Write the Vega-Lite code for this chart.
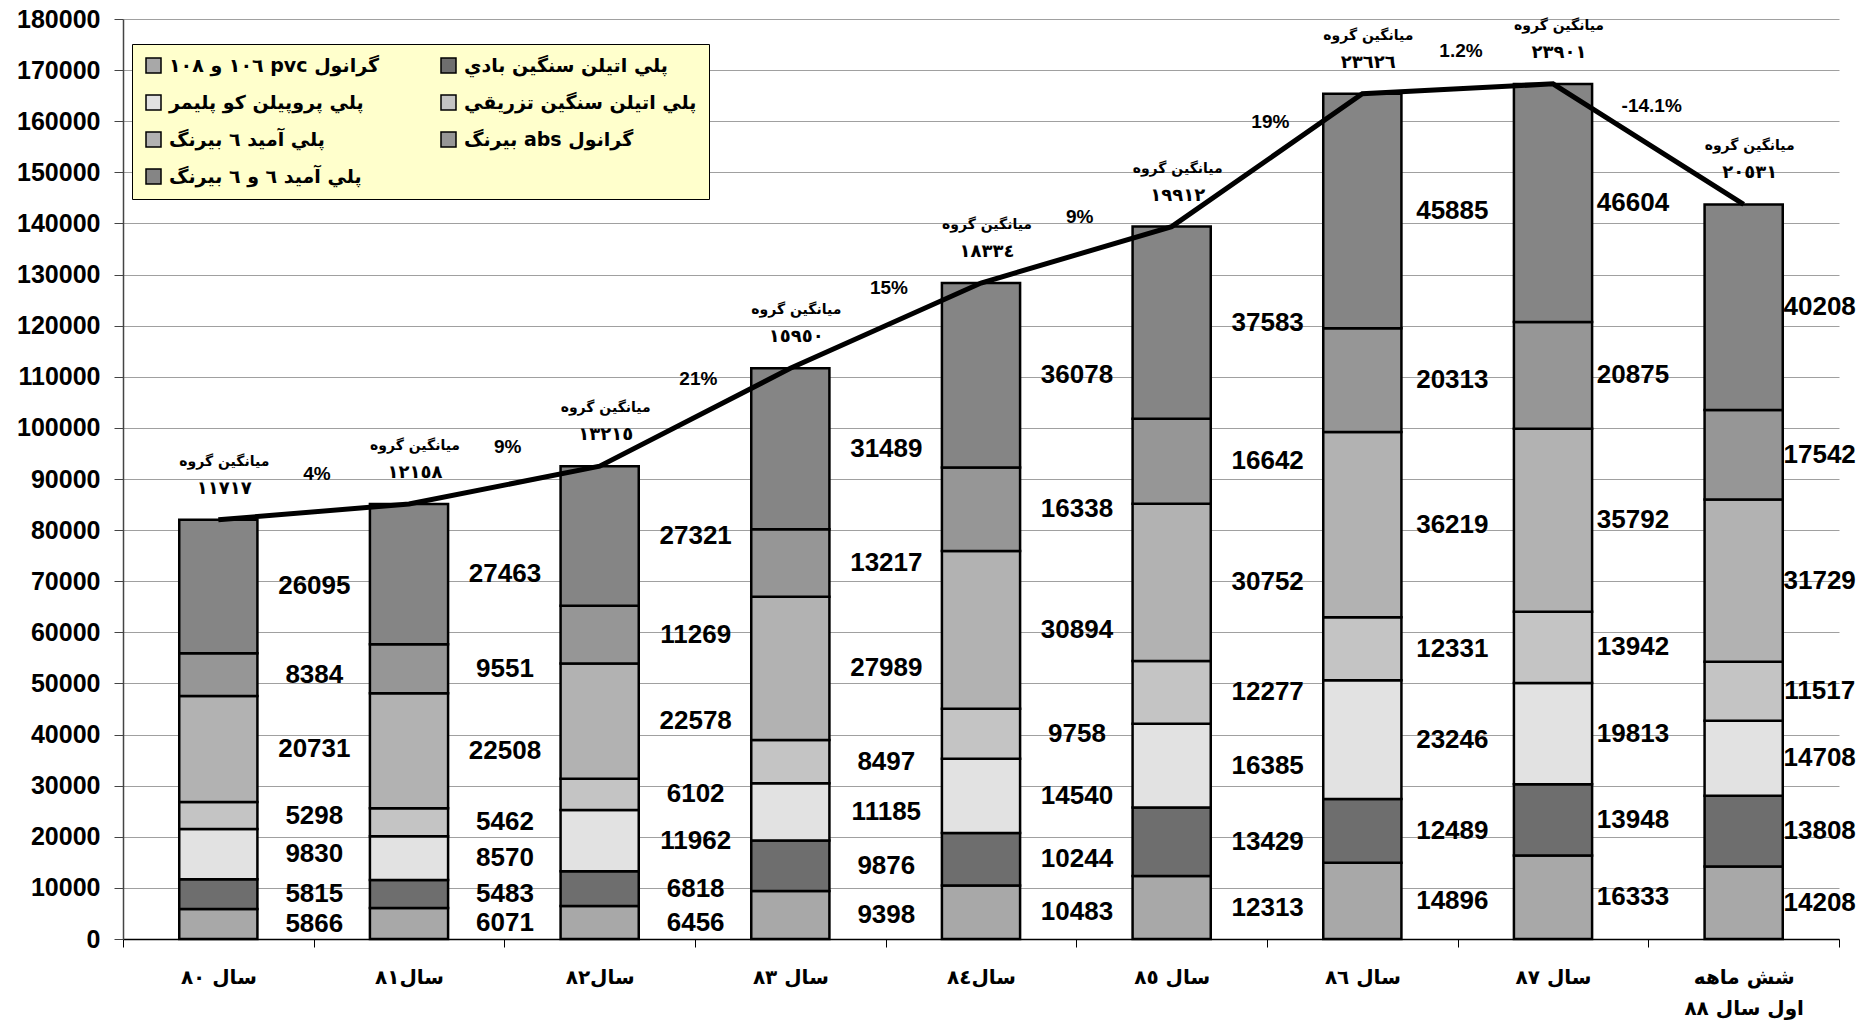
{
  "$schema": "https://vega.github.io/schema/vega-lite/v6.json",
  "width": 1716,
  "height": 920,
  "autosize": {"type": "none"},
  "padding": {"left": 123, "top": 19, "right": 32, "bottom": 87},
  "background": "white",
  "config": {
    "view": {"stroke": null},
    "axisY": {
      "gridColor": "#a0a0a0", "gridWidth": 1,
      "domainColor": "#444444", "domainWidth": 1.5,
      "tickColor": "#444444", "tickSize": 9,
      "labelFont": "Liberation Sans", "labelFontSize": 25, "labelFontWeight": "bold",
      "labelColor": "#000000", "labelPadding": 14
    },
    "axisX": {
      "grid": false,
      "domainColor": "#000000", "domainWidth": 1.5,
      "tickColor": "#000000", "tickSize": 8,
      "labelFont": "DejaVu Sans", "labelFontSize": 20, "labelFontWeight": "bold",
      "labelColor": "#000000", "labelPadding": 20, "labelAngle": 0, "labelLineHeight": 31
    }
  },
  "datasets": {
    "seg": [
      {"year": "سال ٨٠", "series": "گرانول pvc ١٠٦ و ١٠٨", "value": 5866},
      {"year": "سال ٨٠", "series": "پلي اتيلن سنگين بادي", "value": 5815},
      {"year": "سال ٨٠", "series": "پلي پروپيلن کو پليمر", "value": 9830},
      {"year": "سال ٨٠", "series": "پلي اتيلن سنگين تزريقي", "value": 5298},
      {"year": "سال ٨٠", "series": "پلي آميد ٦ بيرنگ", "value": 20731},
      {"year": "سال ٨٠", "series": "گرانول abs بيرنگ", "value": 8384},
      {"year": "سال ٨٠", "series": "پلي آميد ٦ و ٦ بيرنگ", "value": 26095},
      {"year": "سال٨١", "series": "گرانول pvc ١٠٦ و ١٠٨", "value": 6071},
      {"year": "سال٨١", "series": "پلي اتيلن سنگين بادي", "value": 5483},
      {"year": "سال٨١", "series": "پلي پروپيلن کو پليمر", "value": 8570},
      {"year": "سال٨١", "series": "پلي اتيلن سنگين تزريقي", "value": 5462},
      {"year": "سال٨١", "series": "پلي آميد ٦ بيرنگ", "value": 22508},
      {"year": "سال٨١", "series": "گرانول abs بيرنگ", "value": 9551},
      {"year": "سال٨١", "series": "پلي آميد ٦ و ٦ بيرنگ", "value": 27463},
      {"year": "سال٨٢", "series": "گرانول pvc ١٠٦ و ١٠٨", "value": 6456},
      {"year": "سال٨٢", "series": "پلي اتيلن سنگين بادي", "value": 6818},
      {"year": "سال٨٢", "series": "پلي پروپيلن کو پليمر", "value": 11962},
      {"year": "سال٨٢", "series": "پلي اتيلن سنگين تزريقي", "value": 6102},
      {"year": "سال٨٢", "series": "پلي آميد ٦ بيرنگ", "value": 22578},
      {"year": "سال٨٢", "series": "گرانول abs بيرنگ", "value": 11269},
      {"year": "سال٨٢", "series": "پلي آميد ٦ و ٦ بيرنگ", "value": 27321},
      {"year": "سال ٨٣", "series": "گرانول pvc ١٠٦ و ١٠٨", "value": 9398},
      {"year": "سال ٨٣", "series": "پلي اتيلن سنگين بادي", "value": 9876},
      {"year": "سال ٨٣", "series": "پلي پروپيلن کو پليمر", "value": 11185},
      {"year": "سال ٨٣", "series": "پلي اتيلن سنگين تزريقي", "value": 8497},
      {"year": "سال ٨٣", "series": "پلي آميد ٦ بيرنگ", "value": 27989},
      {"year": "سال ٨٣", "series": "گرانول abs بيرنگ", "value": 13217},
      {"year": "سال ٨٣", "series": "پلي آميد ٦ و ٦ بيرنگ", "value": 31489},
      {"year": "سال٨٤", "series": "گرانول pvc ١٠٦ و ١٠٨", "value": 10483},
      {"year": "سال٨٤", "series": "پلي اتيلن سنگين بادي", "value": 10244},
      {"year": "سال٨٤", "series": "پلي پروپيلن کو پليمر", "value": 14540},
      {"year": "سال٨٤", "series": "پلي اتيلن سنگين تزريقي", "value": 9758},
      {"year": "سال٨٤", "series": "پلي آميد ٦ بيرنگ", "value": 30894},
      {"year": "سال٨٤", "series": "گرانول abs بيرنگ", "value": 16338},
      {"year": "سال٨٤", "series": "پلي آميد ٦ و ٦ بيرنگ", "value": 36078},
      {"year": "سال ٨٥", "series": "گرانول pvc ١٠٦ و ١٠٨", "value": 12313},
      {"year": "سال ٨٥", "series": "پلي اتيلن سنگين بادي", "value": 13429},
      {"year": "سال ٨٥", "series": "پلي پروپيلن کو پليمر", "value": 16385},
      {"year": "سال ٨٥", "series": "پلي اتيلن سنگين تزريقي", "value": 12277},
      {"year": "سال ٨٥", "series": "پلي آميد ٦ بيرنگ", "value": 30752},
      {"year": "سال ٨٥", "series": "گرانول abs بيرنگ", "value": 16642},
      {"year": "سال ٨٥", "series": "پلي آميد ٦ و ٦ بيرنگ", "value": 37583},
      {"year": "سال ٨٦", "series": "گرانول pvc ١٠٦ و ١٠٨", "value": 14896},
      {"year": "سال ٨٦", "series": "پلي اتيلن سنگين بادي", "value": 12489},
      {"year": "سال ٨٦", "series": "پلي پروپيلن کو پليمر", "value": 23246},
      {"year": "سال ٨٦", "series": "پلي اتيلن سنگين تزريقي", "value": 12331},
      {"year": "سال ٨٦", "series": "پلي آميد ٦ بيرنگ", "value": 36219},
      {"year": "سال ٨٦", "series": "گرانول abs بيرنگ", "value": 20313},
      {"year": "سال ٨٦", "series": "پلي آميد ٦ و ٦ بيرنگ", "value": 45885},
      {"year": "سال ٨٧", "series": "گرانول pvc ١٠٦ و ١٠٨", "value": 16333},
      {"year": "سال ٨٧", "series": "پلي اتيلن سنگين بادي", "value": 13948},
      {"year": "سال ٨٧", "series": "پلي پروپيلن کو پليمر", "value": 19813},
      {"year": "سال ٨٧", "series": "پلي اتيلن سنگين تزريقي", "value": 13942},
      {"year": "سال ٨٧", "series": "پلي آميد ٦ بيرنگ", "value": 35792},
      {"year": "سال ٨٧", "series": "گرانول abs بيرنگ", "value": 20875},
      {"year": "سال ٨٧", "series": "پلي آميد ٦ و ٦ بيرنگ", "value": 46604},
      {"year": "شش ماهه اول سال ٨٨", "series": "گرانول pvc ١٠٦ و ١٠٨", "value": 14208},
      {"year": "شش ماهه اول سال ٨٨", "series": "پلي اتيلن سنگين بادي", "value": 13808},
      {"year": "شش ماهه اول سال ٨٨", "series": "پلي پروپيلن کو پليمر", "value": 14708},
      {"year": "شش ماهه اول سال ٨٨", "series": "پلي اتيلن سنگين تزريقي", "value": 11517},
      {"year": "شش ماهه اول سال ٨٨", "series": "پلي آميد ٦ بيرنگ", "value": 31729},
      {"year": "شش ماهه اول سال ٨٨", "series": "گرانول abs بيرنگ", "value": 17542},
      {"year": "شش ماهه اول سال ٨٨", "series": "پلي آميد ٦ و ٦ بيرنگ", "value": 40208}
    ],
    "sum": [
      {"year": "سال ٨٠", "total": 82019, "avg": "١١٧١٧"},
      {"year": "سال٨١", "total": 85108, "avg": "١٢١٥٨", "pct": "4%"},
      {"year": "سال٨٢", "total": 92506, "avg": "١٣٢١٥", "pct": "9%"},
      {"year": "سال ٨٣", "total": 111651, "avg": "١٥٩٥٠", "pct": "21%"},
      {"year": "سال٨٤", "total": 128335, "avg": "١٨٣٣٤", "pct": "15%"},
      {"year": "سال ٨٥", "total": 139381, "avg": "١٩٩١٢", "pct": "9%"},
      {"year": "سال ٨٦", "total": 165379, "avg": "٢٣٦٢٦", "pct": "19%"},
      {"year": "سال ٨٧", "total": 167307, "avg": "٢٣٩٠١", "pct": "1.2%"},
      {"year": "شش ماهه اول سال ٨٨", "total": 143720, "avg": "٢٠٥٣١", "pct": "-14.1%"}
    ]
  },
  "encoding": {
    "x": {
      "field": "year", "type": "nominal",
      "scale": {
        "domain": ["سال ٨٠", "سال٨١", "سال٨٢", "سال ٨٣", "سال٨٤", "سال ٨٥", "سال ٨٦", "سال ٨٧", "شش ماهه اول سال ٨٨"],
        "paddingInner": 0, "paddingOuter": 0
      },
      "axis": {
        "title": null,
        "tickBand": "extent",
        "labelExpr": "datum.label == 'شش ماهه اول سال ٨٨' ? ['شش ماهه', 'اول سال ٨٨'] : datum.label"
      }
    }
  },
  "layer": [
    {
      "data": {"name": "seg"},
      "transform": [{"stack": "value", "groupby": ["year"], "as": ["v0", "v1"]}],
      "mark": {"type": "bar", "width": {"band": 0.41}, "stroke": "#000000", "strokeWidth": 2.5},
      "encoding": {
        "y": {
          "field": "v1", "type": "quantitative", "title": null,
          "scale": {"domain": [0, 180000], "nice": false},
          "axis": {"values": [0, 10000, 20000, 30000, 40000, 50000, 60000, 70000, 80000, 90000, 100000, 110000, 120000, 130000, 140000, 150000, 160000, 170000, 180000], "format": "d"}
        },
        "y2": {"field": "v0"},
        "fill": {
          "field": "series", "type": "nominal",
          "scale": {
            "domain": ["گرانول pvc ١٠٦ و ١٠٨", "پلي اتيلن سنگين بادي", "پلي پروپيلن کو پليمر", "پلي اتيلن سنگين تزريقي", "پلي آميد ٦ بيرنگ", "گرانول abs بيرنگ", "پلي آميد ٦ و ٦ بيرنگ"],
            "range": ["#a8a8a8", "#6e6e6e", "#e2e2e2", "#c4c4c4", "#b2b2b2", "#969696", "#858585"]
          },
          "legend": {
            "title": null, "orient": "none", "legendX": 9, "legendY": 25,
            "direction": "horizontal", "columns": 2,
            "fillColor": "#ffffcc", "strokeColor": "#000000", "padding": 12,
            "symbolType": "square", "symbolSize": 225, "symbolStrokeColor": "#000000", "symbolStrokeWidth": 1.5,
            "labelFont": "DejaVu Sans", "labelFontWeight": "bold", "labelFontSize": 19, "labelLimit": 400,
            "rowPadding": 16, "columnPadding": 58, "labelOffset": 6,
            "labelExpr": "'\u202b' + datum.label + '\u202c'"
          }
        }
      }
    },
    {
      "data": {"name": "seg"},
      "transform": [
        {"stack": "value", "groupby": ["year"], "as": ["v0", "v1"]},
        {"fold": ["v0", "v1"], "as": ["k", "pos"]}
      ],
      "mark": {
        "type": "text",
        "dx": {"expr": "datum.year == 'شش ماهه اول سال ٨٨' ? 76 : (datum.year == 'سال ٨٧' ? 80 : (datum.year == 'سال ٨٦' ? 90 : 96))"},
        "font": "Liberation Sans", "fontWeight": "bold", "fontSize": 26, "baseline": "middle", "color": "#000000"
      },
      "encoding": {
        "y": {"aggregate": "mean", "field": "pos", "type": "quantitative", "title": null},
        "text": {"field": "value", "type": "quantitative", "format": "d"},
        "detail": {"field": "series", "type": "nominal"}
      }
    },
    {
      "data": {"name": "sum"},
      "mark": {"type": "line", "color": "#000000", "strokeWidth": 5},
      "encoding": {
        "y": {"field": "total", "type": "quantitative", "title": null}
      }
    },
    {
      "data": {"name": "sum"},
      "mark": {"type": "text", "text": "ميانگين گروه", "dx": 6, "dy": -58, "font": "DejaVu Sans", "fontWeight": "bold", "fontSize": 14, "baseline": "middle", "color": "#000000"},
      "encoding": {
        "y": {"field": "total", "type": "quantitative", "title": null}
      }
    },
    {
      "data": {"name": "sum"},
      "mark": {"type": "text", "dx": 6, "dy": -31, "font": "DejaVu Sans", "fontWeight": "bold", "fontSize": 18, "baseline": "middle", "color": "#000000"},
      "encoding": {
        "y": {"field": "total", "type": "quantitative", "title": null},
        "text": {"field": "avg", "type": "nominal"}
      }
    },
    {
      "data": {"name": "sum"},
      "transform": [
        {"window": [{"op": "mean", "field": "total", "as": "mid"}], "frame": [-1, 0]},
        {"filter": "isValid(datum.pct)"}
      ],
      "mark": {"type": "text", "dx": -92, "dy": -38, "font": "Liberation Sans", "fontWeight": "bold", "fontSize": 19, "baseline": "middle", "color": "#000000"},
      "encoding": {
        "y": {"field": "mid", "type": "quantitative", "title": null},
        "text": {"field": "pct", "type": "nominal"}
      }
    }
  ]
}
